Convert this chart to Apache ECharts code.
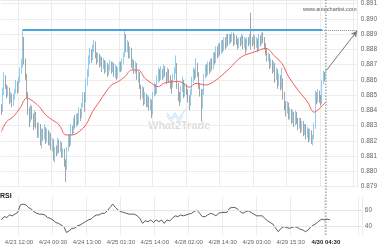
<!DOCTYPE html>
<html><head><meta charset="utf-8">
<script src="https://cdn.jsdelivr.net/npm/echarts@6/dist/echarts.min.js"></script>
<style>html,body{margin:0;padding:0;background:#fff}#c{width:380px;height:250px}</style>
</head><body><div id="c"></div><script>
// ---- data (30-minute candles) ----
const opens = [
0.8842,0.8840,0.8852,0.8862,0.8856,0.8850,0.8854,0.8846,0.8850,0.8844,
0.8849,0.8852,0.8858,0.8853,0.8860,0.8866,0.8870,0.8886,0.8872,0.8862,
0.8850,0.8840,0.8834,0.8842,0.8836,0.8830,0.8838,0.8830,0.8824,0.8830,
0.8820,0.8826,0.8822,0.8828,0.8820,0.8826,0.8818,0.8824,0.8816,0.8820,
0.8810,0.8814,0.8812,0.8820,0.8814,0.8818,0.8811,0.8814,0.8806,0.8802,
0.8814,0.8822,0.8818,0.8828,0.8826,0.8833,0.8830,0.8836,0.8832,0.8840,
0.8836,0.8843,0.8850,0.8846,0.8857,0.8864,0.8872,0.8878,0.8874,0.8880,
0.8884,0.8876,0.8872,0.8876,0.8870,0.8874,0.8868,0.8872,0.8866,0.8870,
0.8864,0.8868,0.8871,0.8866,0.8870,0.8864,0.8868,0.8862,0.8866,0.8870,
0.8867,0.8872,0.8876,0.8886,0.8880,0.8884,0.8876,0.8880,0.8870,0.8872,
0.8866,0.8870,0.8862,0.8864,0.8856,0.8850,0.8854,0.8846,0.8850,0.8844,
0.8848,0.8842,0.8846,0.8838,0.8850,0.8856,0.8852,0.8860,0.8866,0.8862,
0.8866,0.8862,0.8868,0.8864,0.8860,0.8866,0.8862,0.8858,0.8856,0.8862,
0.8866,0.8870,0.8856,0.8850,0.8846,0.8854,0.8858,0.8850,0.8856,0.8852,
0.8848,0.8844,0.8852,0.8860,0.8866,0.8862,0.8870,0.8864,0.8856,0.8852,
0.8842,0.8852,0.8862,0.8868,0.8864,0.8870,0.8866,0.8872,0.8868,0.8876,
0.8872,0.8880,0.8876,0.8882,0.8878,0.8884,0.8880,0.8886,0.8882,0.8888,
0.8884,0.8888,0.8886,0.8890,0.8884,0.8888,0.8885,0.8882,0.8886,0.8884,
0.8888,0.8882,0.8886,0.8880,0.8886,0.8884,0.8888,0.8886,0.8884,0.8888,
0.8882,0.8886,0.8880,0.8888,0.8884,0.8890,0.8886,0.8882,0.8878,0.8874,
0.8876,0.8870,0.8872,0.8866,0.8870,0.8862,0.8866,0.8858,0.8862,0.8856,
0.8860,0.8850,0.8844,0.8840,0.8844,0.8836,0.8840,0.8834,0.8838,0.8832,
0.8838,0.8834,0.8830,0.8834,0.8828,0.8832,0.8826,0.8830,0.8824,0.8827,
0.8822,0.8826,0.8820,0.8822,0.8830,0.8850,0.8846,0.8852,0.8848,0.8845,
0.8858,0.8863,0.8861];
const closes = [
0.8840,0.8852,0.8862,0.8856,0.8850,0.8854,0.8846,0.8850,0.8844,0.8849,
0.8852,0.8858,0.8853,0.8860,0.8866,0.8870,0.8886,0.8872,0.8862,0.8850,
0.8840,0.8834,0.8842,0.8836,0.8830,0.8838,0.8830,0.8824,0.8830,0.8820,
0.8826,0.8822,0.8828,0.8820,0.8826,0.8818,0.8824,0.8816,0.8820,0.8810,
0.8814,0.8812,0.8820,0.8814,0.8818,0.8811,0.8814,0.8806,0.8802,0.8814,
0.8822,0.8818,0.8828,0.8826,0.8833,0.8830,0.8836,0.8832,0.8840,0.8836,
0.8843,0.8850,0.8846,0.8857,0.8864,0.8872,0.8878,0.8874,0.8880,0.8884,
0.8876,0.8872,0.8876,0.8870,0.8874,0.8868,0.8872,0.8866,0.8870,0.8864,
0.8868,0.8871,0.8866,0.8870,0.8864,0.8868,0.8862,0.8866,0.8870,0.8867,
0.8872,0.8876,0.8886,0.8880,0.8884,0.8876,0.8880,0.8870,0.8872,0.8866,
0.8870,0.8862,0.8864,0.8856,0.8850,0.8854,0.8846,0.8850,0.8844,0.8848,
0.8842,0.8846,0.8838,0.8850,0.8856,0.8852,0.8860,0.8866,0.8862,0.8866,
0.8862,0.8868,0.8864,0.8860,0.8866,0.8862,0.8858,0.8856,0.8862,0.8866,
0.8870,0.8856,0.8850,0.8846,0.8854,0.8858,0.8850,0.8856,0.8852,0.8848,
0.8844,0.8852,0.8860,0.8866,0.8862,0.8870,0.8864,0.8856,0.8852,0.8842,
0.8852,0.8862,0.8868,0.8864,0.8870,0.8866,0.8872,0.8868,0.8876,0.8872,
0.8880,0.8876,0.8882,0.8878,0.8884,0.8880,0.8886,0.8882,0.8888,0.8884,
0.8888,0.8886,0.8890,0.8884,0.8888,0.8885,0.8882,0.8886,0.8884,0.8888,
0.8882,0.8886,0.8880,0.8886,0.8884,0.8888,0.8886,0.8884,0.8888,0.8882,
0.8886,0.8880,0.8888,0.8884,0.8890,0.8886,0.8882,0.8878,0.8874,0.8876,
0.8870,0.8872,0.8866,0.8870,0.8862,0.8866,0.8858,0.8862,0.8856,0.8860,
0.8850,0.8844,0.8840,0.8844,0.8836,0.8840,0.8834,0.8838,0.8832,0.8838,
0.8834,0.8830,0.8834,0.8828,0.8832,0.8826,0.8830,0.8824,0.8827,0.8822,
0.8826,0.8820,0.8822,0.8830,0.8850,0.8846,0.8852,0.8848,0.8845,0.8858,
0.8863,0.8861,0.8864];
const lows = [
0.8837,0.8839,0.8850,0.8854,0.8848,0.8849,0.8844,0.8845,0.8842,0.8843,
0.8847,0.8851,0.8851,0.8852,0.8858,0.8864,0.8868,0.8870,0.8860,0.8848,
0.8837,0.8829,0.8832,0.8834,0.8827,0.8829,0.8828,0.8822,0.8822,0.8817,
0.8815,0.8820,0.8821,0.8818,0.8819,0.8817,0.8817,0.8814,0.8813,0.8807,
0.8806,0.8810,0.8811,0.8812,0.8813,0.8809,0.8809,0.8803,0.8793,0.8801,
0.8813,0.8816,0.8817,0.8824,0.8825,0.8828,0.8829,0.8830,0.8831,0.8833,
0.8835,0.8842,0.8839,0.8845,0.8856,0.8862,0.8870,0.8871,0.8873,0.8878,
0.8874,0.8870,0.8871,0.8868,0.8869,0.8865,0.8867,0.8864,0.8865,0.8862,
0.8863,0.8866,0.8864,0.8865,0.8862,0.8861,0.8860,0.8861,0.8865,0.8865,
0.8866,0.8870,0.8875,0.8878,0.8878,0.8874,0.8874,0.8868,0.8867,0.8864,
0.8864,0.8860,0.8858,0.8854,0.8847,0.8848,0.8843,0.8844,0.8842,0.8842,
0.8840,0.8840,0.8835,0.8837,0.8849,0.8850,0.8851,0.8858,0.8859,0.8860,
0.8860,0.8861,0.8862,0.8857,0.8859,0.8858,0.8854,0.8851,0.8855,0.8860,
0.8864,0.8854,0.8846,0.8843,0.8845,0.8852,0.8848,0.8849,0.8850,0.8845,
0.8840,0.8843,0.8850,0.8858,0.8860,0.8861,0.8862,0.8854,0.8849,0.8833,
0.8841,0.8850,0.8861,0.8862,0.8863,0.8864,0.8865,0.8866,0.8867,0.8870,
0.8871,0.8874,0.8875,0.8876,0.8877,0.8878,0.8879,0.8880,0.8881,0.8882,
0.8883,0.8884,0.8885,0.8882,0.8883,0.8883,0.8880,0.8881,0.8882,0.8883,
0.8880,0.8881,0.8877,0.8879,0.8882,0.8883,0.8880,0.8882,0.8883,0.8880,
0.8881,0.8878,0.8879,0.8882,0.8883,0.8884,0.8880,0.8876,0.8872,0.8872,
0.8867,0.8868,0.8864,0.8865,0.8858,0.8860,0.8854,0.8856,0.8853,0.8854,
0.8847,0.8840,0.8836,0.8838,0.8834,0.8834,0.8831,0.8832,0.8829,0.8830,
0.8831,0.8827,0.8828,0.8825,0.8826,0.8823,0.8824,0.8821,0.8822,0.8819,
0.8820,0.8818,0.8817,0.8821,0.8828,0.8844,0.8845,0.8845,0.8843,0.8844,
0.8857,0.8859,0.8860];
const highs = [
0.8844,0.8855,0.8865,0.8863,0.8857,0.8856,0.8855,0.8852,0.8851,0.8851,
0.8854,0.8860,0.8859,0.8862,0.8868,0.8874,0.8893,0.8888,0.8874,0.8864,
0.8852,0.8842,0.8844,0.8843,0.8838,0.8840,0.8839,0.8832,0.8832,0.8831,
0.8828,0.8828,0.8831,0.8829,0.8828,0.8827,0.8826,0.8825,0.8822,0.8821,
0.8816,0.8817,0.8822,0.8821,0.8820,0.8819,0.8815,0.8815,0.8808,0.8816,
0.8824,0.8824,0.8831,0.8830,0.8835,0.8837,0.8838,0.8838,0.8842,0.8841,
0.8845,0.8852,0.8852,0.8861,0.8867,0.8876,0.8881,0.8880,0.8883,0.8886,
0.8885,0.8878,0.8878,0.8877,0.8876,0.8875,0.8874,0.8873,0.8872,0.8871,
0.8870,0.8873,0.8872,0.8872,0.8871,0.8870,0.8869,0.8868,0.8872,0.8872,
0.8874,0.8878,0.8893,0.8890,0.8886,0.8885,0.8882,0.8881,0.8874,0.8873,
0.8872,0.8871,0.8866,0.8865,0.8857,0.8856,0.8855,0.8852,0.8851,0.8850,
0.8849,0.8848,0.8847,0.8852,0.8858,0.8857,0.8863,0.8868,0.8867,0.8869,
0.8867,0.8870,0.8869,0.8865,0.8868,0.8867,0.8863,0.8860,0.8864,0.8868,
0.8876,0.8871,0.8858,0.8852,0.8856,0.8862,0.8860,0.8858,0.8857,0.8854,
0.8850,0.8854,0.8862,0.8868,0.8867,0.8874,0.8871,0.8865,0.8858,0.8854,
0.8854,0.8864,0.8870,0.8870,0.8872,0.8872,0.8874,0.8874,0.8878,0.8878,
0.8882,0.8882,0.8884,0.8884,0.8886,0.8886,0.8888,0.8888,0.8890,0.8890,
0.8890,0.8890,0.8891,0.8891,0.8890,0.8889,0.8887,0.8888,0.8888,0.8890,
0.8889,0.8888,0.8887,0.8888,0.8888,0.8890,0.8904,0.8888,0.8890,0.8889,
0.8888,0.8887,0.8890,0.8889,0.8891,0.8891,0.8888,0.8884,0.8880,0.8878,
0.8877,0.8874,0.8873,0.8872,0.8871,0.8868,0.8867,0.8864,0.8863,0.8868,
0.8861,0.8852,0.8846,0.8846,0.8845,0.8842,0.8841,0.8840,0.8839,0.8840,
0.8839,0.8835,0.8835,0.8835,0.8833,0.8833,0.8831,0.8831,0.8829,0.8828,
0.8828,0.8827,0.8824,0.8832,0.8853,0.8852,0.8854,0.8853,0.8850,0.8860,
0.8866,0.8865,0.8866];

// moving average (red) read at sample candle positions
const maIdx = [0,4,9,14,19,24,29,33,38,43,48,53,58,63,68,73,78,82,87,92,97,102,107,112,117,121,128,133,140,145,152,160,170,179,189,197,204,209,214,221,228,233,238,242];
const maVal = [0.88261,0.88326,0.88359,0.88416,0.88481,0.88457,0.88416,0.88370,0.88337,0.88305,0.88239,0.88239,0.88261,0.88305,0.88392,0.88457,0.88522,0.88566,0.88588,0.88620,0.88664,0.88664,0.88610,0.88577,0.88555,0.88577,0.88588,0.88588,0.88551,0.88577,0.88566,0.88599,0.88675,0.88751,0.88784,0.88806,0.88751,0.88708,0.88620,0.88533,0.88457,0.88388,0.88420,0.88457];

// RSI read at sample candle positions
const rsiIdx = [0,2,4,6,8,10,12,14,16,18,20,22,24,26,28,30,32,34,36,38,40,42,44,46,48,50,52,54,56,58,60,62,64,66,68,70,72,74,76,78,80,82,84,86,88,90,92,94,96,98,100,102,104,106,108,110,112,114,116,118,120,122,124,126,128,130,132,134,136,138,140,142,144,146,148,150,152,154,156,158,160,162,164,166,168,170,172,174,176,178,180,182,184,186,188,190,192,194,196,198,200,202,204,206,208,210,212,214,216,218,220,222,224,226,228,230,232,234,236,238,240,242];
const rsiVal = [48,52,51,54,53,55,57,66,67,66,63,61,58,56,55,55,54,51,50,48,45,44,42,40,33,35,38,38,41,42,44,46,48,49,52,54,54,56,56,59,63,67,63,60,58,57,56,55,55,55,53,50,44,47,46,48,45,48,46,48,44,48,47,50,53,52,54,53,54,55,56,58,60,56,52,52,54,56,55,53,56,57,57,57,62,63,63,61,58,56,58,59,57,55,53,53,53,50,47,45,43,38,34,38,40,39,38,39,40,39,37,36,34,36,40,42,44,47,49,48,49,48];

const resistanceLevel = 0.88925;
const resistanceStart = 16;
const patternEnd = 239;         // "4/30 04:30"
const forecastEnd = 265;
const forecastTarget = 0.8892;
const arrowStartIdx = 242, arrowStartVal = 0.8866;
const yTicksMain = {min: 0.879, max: 0.8912, step: 0.001};
const rsiLabels = [40, 60];

// categories: 30-minute slots, weekend gap after slot 126 (4/25 20:30 -> 4/27 20:30)
const N_SLOTS = 266;
const categories = [];
const t0 = Date.UTC(2025, 3, 23, 5, 30);
for (let i = 0; i < N_SLOTS; i++) {
  const t = t0 + i * 1800000 + (i >= 127 ? 47.5 * 3600000 : 0);
  const d = new Date(t);
  const p = n => String(n).padStart(2, '0');
  categories.push((d.getUTCMonth() + 1) + '/' + d.getUTCDate() + ' ' + p(d.getUTCHours()) + ':' + p(d.getUTCMinutes()));
}
const LABEL_FIRST = 13, LABEL_STEP = 25;
const isTick = i => i >= LABEL_FIRST && (i - LABEL_FIRST) % LABEL_STEP === 0;

const candles = opens.map((o, i) => [o, closes[i], lows[i], highs[i]]);
const maData = maIdx.map((x, k) => [x, maVal[k]]);
const rsiData = rsiIdx.map((x, k) => [x, rsiVal[k]]);

const FONT = 'Liberation Sans';
const GL = 0.67, GW = 361.2;
const gridLine = {show: true, lineStyle: {color: '#ececec', width: 1}};

const chart = echarts.init(document.getElementById('c'), null, {renderer: 'canvas'});
chart.setOption({
  animation: false,
  backgroundColor: '#fff',
  textStyle: {fontFamily: FONT},
  grid: [
    {left: GL, width: GW, top: 0, height: 186.66},
    {left: GL, width: GW, top: 196.6, height: 38.4},
    {left: GL, width: GW, top: 0, height: 235}
  ],
  xAxis: [
    {gridIndex: 0, type: 'category', data: categories, boundaryGap: true,
     axisLine: {show: false}, axisTick: {show: false}, axisLabel: {show: false},
     splitLine: Object.assign({interval: (i) => isTick(i)}, gridLine)},
    {gridIndex: 1, type: 'category', data: categories, boundaryGap: true,
     axisLine: {show: false}, axisTick: {show: false},
     axisLabel: {interval: (i) => isTick(i) && i < patternEnd - 1, fontSize: 6, color: '#666', margin: 4, fontFamily: FONT},
     splitLine: Object.assign({interval: (i) => isTick(i)}, gridLine)},
    {gridIndex: 2, type: 'category', data: categories, boundaryGap: true,
     axisLine: {show: false}, axisTick: {show: false}, splitLine: {show: false},
     axisLabel: {interval: (i) => i === patternEnd, fontSize: 6, fontWeight: 'bold', color: '#222', margin: 4, fontFamily: FONT}}
  ],
  yAxis: [
    {gridIndex: 0, type: 'value', position: 'right', min: yTicksMain.min, max: yTicksMain.max, interval: yTicksMain.step,
     axisLine: {show: false}, axisTick: {show: false},
     axisLabel: {fontSize: 6.5, color: '#666', margin: 3, fontFamily: FONT,
       formatter: v => Math.abs(v * 1000 - Math.round(v * 1000)) < 1e-6 ? v.toFixed(3) : ''},
     splitLine: gridLine},
    {gridIndex: 1, type: 'value', position: 'right', min: 30, max: 76, interval: 10,
     axisLine: {show: false}, axisTick: {show: false}, splitLine: {show: false},
     axisLabel: {fontSize: 6.5, color: '#666', margin: 3, fontFamily: FONT,
       formatter: v => rsiLabels.includes(Math.round(v)) && Math.abs(v - Math.round(v)) < 1e-6 ? String(Math.round(v)) : ''}},
    {gridIndex: 2, type: 'value', min: 0, max: 1, show: false}
  ],
  series: [
    {type: 'candlestick', xAxisIndex: 0, yAxisIndex: 0, data: candles, barWidth: 1,
     itemStyle: {color: '#74c3ec', color0: '#8e8e8e', borderColor: '#74c3ec', borderColor0: '#8e8e8e', borderWidth: 0.8},
     markLine: {silent: true, symbol: 'none', label: {show: false}, animation: false,
       data: [
         [{coord: [resistanceStart, resistanceLevel], lineStyle: {color: '#4aa3df', width: 2, type: 'solid'}},
          {coord: [patternEnd, resistanceLevel]}],
         [{coord: [patternEnd, resistanceLevel], lineStyle: {color: '#8a8a8a', width: 1, type: 'dotted'}},
          {coord: [forecastEnd, resistanceLevel]}],
         [{coord: [arrowStartIdx, arrowStartVal], symbol: 'none', lineStyle: {color: '#777', width: 1, type: 'solid'}},
          {coord: [forecastEnd, forecastTarget], symbol: 'arrow', symbolSize: [5, 6]}]
       ]}},
    {type: 'line', xAxisIndex: 0, yAxisIndex: 0, data: maData, smooth: 0.35, symbol: 'none',
     lineStyle: {color: '#f25c5c', width: 1}, z: 3},
    {type: 'line', xAxisIndex: 1, yAxisIndex: 1, data: rsiData, symbol: 'none',
     lineStyle: {color: '#333', width: 0.8},
     markLine: {silent: true, symbol: 'none', label: {show: false}, animation: false,
       lineStyle: {color: '#e6e6e6', width: 1, type: 'solid'},
       data: rsiLabels.map(v => ({yAxis: v}))}},
    {type: 'line', xAxisIndex: 2, yAxisIndex: 2, data: [[patternEnd, 0], [patternEnd, 1]], symbol: 'none',
     lineStyle: {color: '#9da7b1', width: 1.5, type: 'dotted'}, z: 1}
  ],
  graphic: [
    {type: 'text', left: 148, top: 120, z: 0, silent: true,
     style: {text: 'What2Trade', fontSize: 11, fontWeight: 'bold', fill: '#dcdcdc', fontFamily: FONT}},
    {type: 'polyline', z: 0, silent: true,
     shape: {points: [[167, 113], [171, 119], [175, 113], [179, 119], [183, 113], [188, 107]]},
     style: {stroke: '#d3e9f7', lineWidth: 1.5, fill: null}},
    {type: 'polyline', z: 0, silent: true,
     shape: {points: [[167, 116], [171, 122], [175, 116], [179, 122], [183, 116]]},
     style: {stroke: '#d3e9f7', lineWidth: 1.2, fill: null}},
    {type: 'text', left: 303, top: 6, silent: true,
     style: {text: 'www.autochartist.com', fontSize: 5.5, fill: '#555', fontFamily: FONT}},
    {type: 'text', left: 0, top: 193, silent: true,
     style: {text: 'RSI', fontSize: 7, fontWeight: 'bold', fill: '#222', fontFamily: FONT}}
  ]
});
</script></body></html>
